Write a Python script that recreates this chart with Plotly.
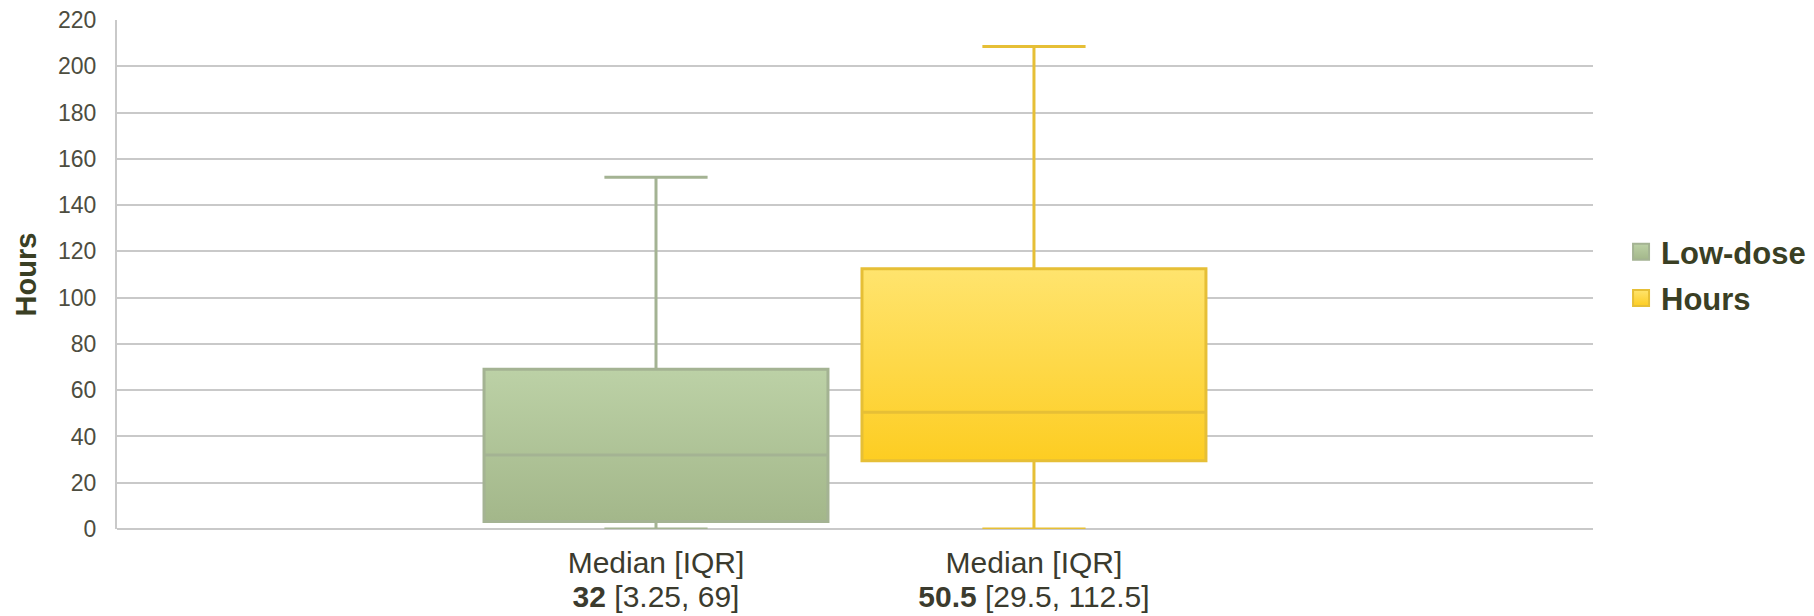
import plotly.graph_objects as go

groups = ["Low-dose", "Hours"]
positions = [0, 1]
mins = [0, 0]
q1s = [3.25, 29.5]
medians = [32, 50.5]
q3s = [69, 112.5]
maxs = [152, 208.5]
label_line1 = ["Median [IQR]", "Median [IQR]"]
label_line2 = ["<b>32</b> [3.25, 69]", "<b>50.5</b> [29.5, 112.5]"]
y_ticks = list(range(0, 221, 20))

top_colors = ["#bcd1a6", "#ffe46e"]
bottom_colors = ["#a3b78a", "#fdcd22"]
line_colors = ["#a4b393", "#e6bf36"]

BOX_W = 0.91

fig = go.Figure()

# gradient bodies (base axis)
for i in range(2):
    c = positions[i]
    fig.add_trace(go.Scatter(
        x=[c - BOX_W / 2, c + BOX_W / 2, c + BOX_W / 2, c - BOX_W / 2, c - BOX_W / 2],
        y=[q1s[i], q1s[i], q3s[i], q3s[i], q1s[i]],
        mode="lines", line=dict(width=0), fill="toself",
        fillgradient=dict(type="vertical",
                          colorscale=[[0, bottom_colors[i]], [1, top_colors[i]]],
                          start=q1s[i], stop=q3s[i]),
        showlegend=False, hoverinfo="skip", xaxis="x", yaxis="y",
    ))

# boxes (overlay axis so they draw above the gradient)
for i in range(2):
    fig.add_trace(go.Box(
        x=[positions[i]], q1=[q1s[i]], median=[medians[i]], q3=[q3s[i]],
        lowerfence=[mins[i]], upperfence=[maxs[i]],
        width=BOX_W, whiskerwidth=0.3,
        fillcolor="rgba(0,0,0,0)",
        line=dict(color=line_colors[i], width=3),
        showlegend=False, name=groups[i], xaxis="x2", yaxis="y",
    ))

# legend entries
for i in range(2):
    fig.add_trace(go.Scatter(
        x=[None], y=[None], mode="markers", name="<b>" + groups[i] + "</b>",
        legendgroup=groups[i],
        marker=dict(symbol="square", size=22, color=top_colors[i],
                    gradient=dict(type="vertical", color=bottom_colors[i]),
                    line=dict(color=line_colors[i], width=2)),
        xaxis="x", yaxis="y",
    ))

XR = [-1.426, 2.479]
label_font = dict(family="Liberation Sans, Arial, sans-serif", size=30, color="#3b3b2e")
fig.update_layout(
    width=1814, height=616,
    margin=dict(l=117, r=221, t=20, b=87, autoexpand=False),
    paper_bgcolor="white", plot_bgcolor="white",
    font=dict(family="Liberation Sans, Arial, sans-serif", color="#4a4a3c"),
    showlegend=True,
    legend=dict(x=1.019, y=0.499, xanchor="left", yanchor="middle",
                font=dict(size=31, color="#3a3f24", family="Liberation Sans, Arial, sans-serif"),
                bgcolor="rgba(0,0,0,0)", tracegroupgap=3, itemwidth=30),
    xaxis=dict(range=XR, tickmode="array", tickvals=positions, ticktext=label_line1,
               showgrid=False, zeroline=False, showline=False, ticks="", automargin=False,
               tickfont=label_font, ticklabelstandoff=13, fixedrange=True),
    xaxis2=dict(range=XR, overlaying="x", side="bottom", tickmode="array",
                tickvals=positions, ticktext=label_line2, automargin=False,
                showgrid=False, zeroline=False, showline=False, ticks="",
                tickfont=label_font, ticklabelstandoff=47, fixedrange=True),
    yaxis=dict(range=[0, 220], tickmode="array", tickvals=y_ticks, automargin=False,
               showgrid=True, gridcolor="#c9c9c9", gridwidth=2,
               showline=True, linecolor="#c9c9c9", linewidth=2,
               zeroline=True, zerolinecolor="#c9c9c9", zerolinewidth=2,
               ticks="", ticklabelstandoff=14,
               tickfont=dict(size=23, color="#4d4d40"),
               title=dict(text="<b>Hours</b>", font=dict(size=29, color="#3a3f24"), standoff=13)),
)

fig.write_html("out.html")
